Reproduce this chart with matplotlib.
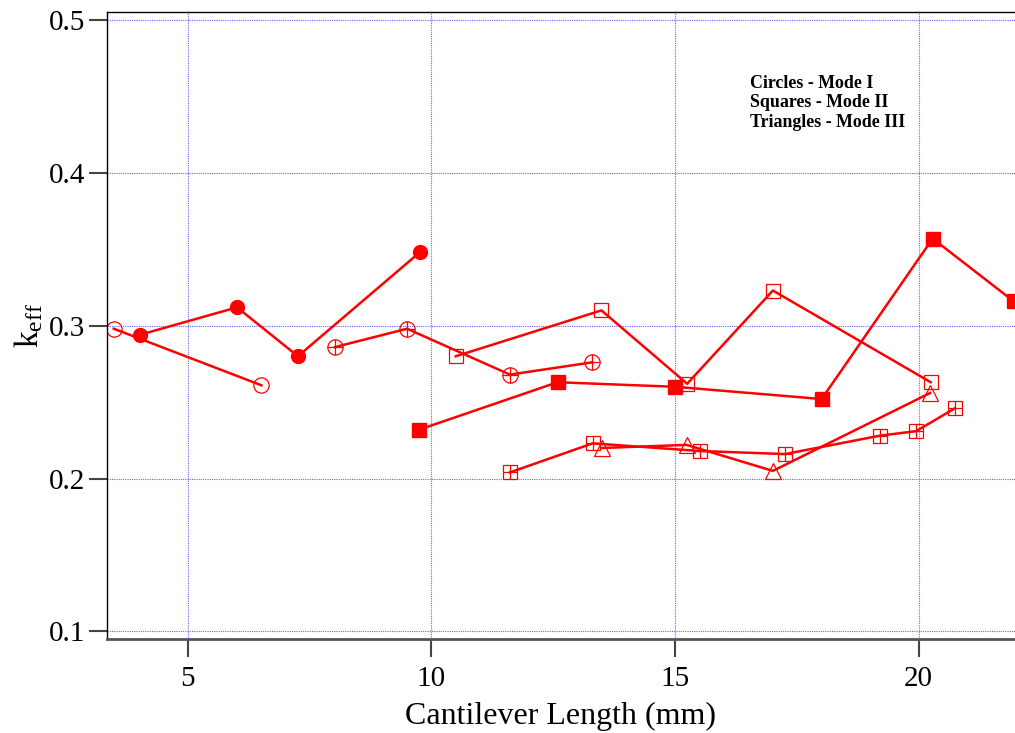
import matplotlib.pyplot as plt
import numpy as np

plt.rcParams['font.family'] = ['Liberation Serif', 'DejaVu Serif']
plt.rcParams['mathtext.fontset'] = 'custom'
plt.rcParams['mathtext.rm'] = 'Liberation Serif'
plt.rcParams['mathtext.it'] = 'Liberation Serif'

# Mode I (circles)
c_fill_x = [4.01, 6.01, 7.26, 9.76]
c_fill_y = [0.294, 0.312, 0.280, 0.348]
c_open_x = [3.48, 6.51]
c_open_y = [0.298, 0.261]
c_plus_x = [8.02, 9.50, 11.61, 13.30]
c_plus_y = [0.286, 0.298, 0.268, 0.276]

# Mode II (squares)
s_fill_x = [9.75, 12.59, 15.01, 18.01, 20.29, 21.95]
s_fill_y = [0.232, 0.263, 0.260, 0.252, 0.357, 0.316]
s_open_x = [10.50, 13.49, 15.25, 17.01, 20.25]
s_open_y = [0.280, 0.310, 0.262, 0.323, 0.263]
s_plus_x = [11.61, 13.31, 15.51, 17.26, 19.20, 19.95, 20.75]
s_plus_y = [0.204, 0.223, 0.218, 0.216, 0.228, 0.231, 0.246]

# Mode III (triangles)
t_x = [13.51, 15.24, 17.01, 20.24]
t_y = [0.220, 0.222, 0.205, 0.256]

red = '#ff0000'
fig = plt.figure(figsize=(10.15, 7.33), dpi=100)
ax = fig.add_axes([0.1054, 0.1278, 0.8946, 0.8562])

lw = 1.8
open_kw = dict(color=red, lw=lw, markerfacecolor='none', markeredgecolor=red, markeredgewidth=0.9)

ax.plot(c_fill_x, c_fill_y, '-o', color=red, lw=lw, ms=10)
ax.plot(c_open_x, c_open_y, '-o', ms=11, **open_kw)
ax.plot(c_plus_x, c_plus_y, '-o', ms=11, **open_kw)
ax.plot(c_plus_x, c_plus_y, '+', color=red, ms=11, mew=0.9)

ax.plot(s_fill_x, s_fill_y, '-s', color=red, lw=lw, ms=9.5)
ax.plot(s_open_x, s_open_y, '-s', ms=10, **open_kw)
ax.plot(s_plus_x, s_plus_y, '-s', ms=10, **open_kw)
ax.plot(s_plus_x, s_plus_y, '+', color=red, ms=10, mew=0.9)

ax.plot(t_x, t_y, '-^', ms=11, **open_kw)

ax.set_xlim(3.34, 21.98)
ax.set_ylim(0.0948, 0.5054)
ax.set_xticks([5, 10, 15, 20])
ax.set_yticks([0.1, 0.2, 0.3, 0.4, 0.5])
ax.grid(True, color='#6666ff', linestyle=(0, (1, 1)), lw=0.8)
ax.tick_params(direction='out', length=13, width=1.5, color='#444444',
               labelsize=21)
ax.tick_params(axis='x', pad=6)
ax.tick_params(axis='y', pad=3)

ax.spines['right'].set_visible(False)
ax.spines['bottom'].set_linewidth(2)
ax.spines['bottom'].set_color('#555555')
ax.spines['left'].set_linewidth(1)
ax.spines['top'].set_linewidth(1)

ax.set_xlabel('Cantilever Length (mm)', fontsize=23, labelpad=7)
ax.set_ylabel(r'$\mathrm{k_{eff}}$', fontsize=24, labelpad=2)

ax.text(0.708, 0.899, 'Circles - Mode I\nSquares - Mode II\nTriangles - Mode III',
        transform=ax.transAxes, fontsize=12.9, fontweight='bold',
        va='top', ha='left', linespacing=1.17)

fig.savefig('out.png', dpi=100)
